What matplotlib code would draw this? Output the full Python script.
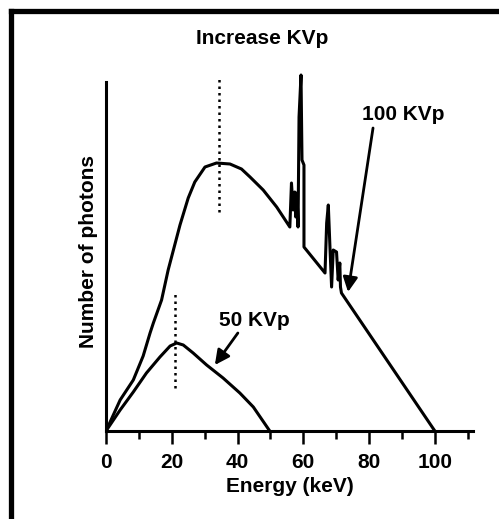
import matplotlib.pyplot as plt
from matplotlib.ticker import MultipleLocator

plt.rcParams['font.family'] = ['Liberation Sans', 'DejaVu Sans']

# 100 kVp spectrum (energy keV, relative photon count)
e100 = [0, 4.3, 8.3, 11.3, 13.4, 14.4, 16.9, 18.9, 20.5, 22.5, 25, 27, 30.1, 33.6,
        37.7, 41.2, 43.8, 47.8, 51.9, 55.9,
        56.4, 56.9, 57.4, 57.7, 58.1, 58.4, 58.7, 59.3, 59.6, 60.2,
        60.2, 66.6, 67.1, 67.6, 68.1, 68.6, 69.1, 70.1, 70.6, 71.1, 71.3, 71.6, 100]
y100 = [0, 31, 51, 75, 98, 108, 131, 161, 181, 206, 233, 249, 264, 268,
        267, 262, 254, 241, 224, 204,
        248, 221, 239, 214, 238, 204, 314, 356, 271, 266,
        184, 158, 208, 226, 184, 144, 181, 179, 151, 168, 144, 138, 0]

# 50 kVp spectrum
e50 = [0, 4.3, 8.3, 12.3, 16.4, 19.5, 21.5, 23.5, 26.5, 30.6, 35.6, 40.7, 44.8, 49.8]
y50 = [0, 21, 39, 58, 74, 85, 88, 86, 78, 66, 53, 38, 24, 0]

# mean energy markers
mean_e = [34.3, 21.0]
mean_lo = [219, 43]
mean_hi = [353, 139]

fig = plt.figure(figsize=(4.99, 5.19), dpi=100)
ax = fig.add_axes([106/499, 1 - 431/519, (473-106)/499, 360/519])

ax.plot(e100, y100, color='black', lw=2.2)
ax.plot(e50, y50, color='black', lw=2.2)
for e, lo, hi in zip(mean_e, mean_lo, mean_hi):
    ax.plot([e, e], [lo, hi], color='black', lw=1.8, linestyle=(0, (1, 1.6)))

ax.set_xlim(0, 111.6)
ax.set_ylim(0, 360)
ax.spines['top'].set_visible(False)
ax.spines['right'].set_visible(False)
ax.spines['left'].set_bounds(0, 349)
ax.spines['left'].set_linewidth(2.2)
ax.spines['bottom'].set_linewidth(2.2)
ax.set_yticks([])
ax.xaxis.set_major_locator(MultipleLocator(20))
ax.xaxis.set_minor_locator(MultipleLocator(10))
ax.tick_params(axis='x', which='major', length=9.5, width=1.8, labelsize=15, pad=6)
ax.tick_params(axis='x', which='minor', length=5.5, width=1.8)
for lab in ax.get_xticklabels():
    lab.set_fontweight('bold')
ax.set_xlabel('Energy (keV)', fontsize=15, fontweight='bold', labelpad=4)
ax.set_ylabel('Number of photons', fontsize=15, fontweight='bold', labelpad=6)

arrow = dict(arrowstyle='-|>', color='black', lw=2, mutation_scale=22, shrinkA=0, shrinkB=0)
ax.text(90.3, 317, '100 KVp', fontsize=15, fontweight='bold', ha='center', va='center')
ax.annotate('', xy=(73.6, 139), xytext=(81.2, 303), arrowprops=arrow)
ax.text(45, 111, '50 KVp', fontsize=15, fontweight='bold', ha='center', va='center')
ax.annotate('', xy=(33.1, 66), xytext=(40.1, 98), arrowprops=arrow)

fig.text(262/499, 1 - 38/519, 'Increase KVp', fontsize=15, fontweight='bold',
         ha='center', va='center')

# frame lines (left and top)
fig.add_artist(plt.Line2D([10.5/499, 10.5/499], [0, 1 - 11/519], color='black', lw=3.8,
                          transform=fig.transFigure, solid_capstyle='projecting'))
fig.add_artist(plt.Line2D([10.5/499, 1], [1 - 11/519, 1 - 11/519], color='black', lw=3.8,
                          transform=fig.transFigure, solid_capstyle='projecting'))

fig.savefig('out.png', dpi=100)
